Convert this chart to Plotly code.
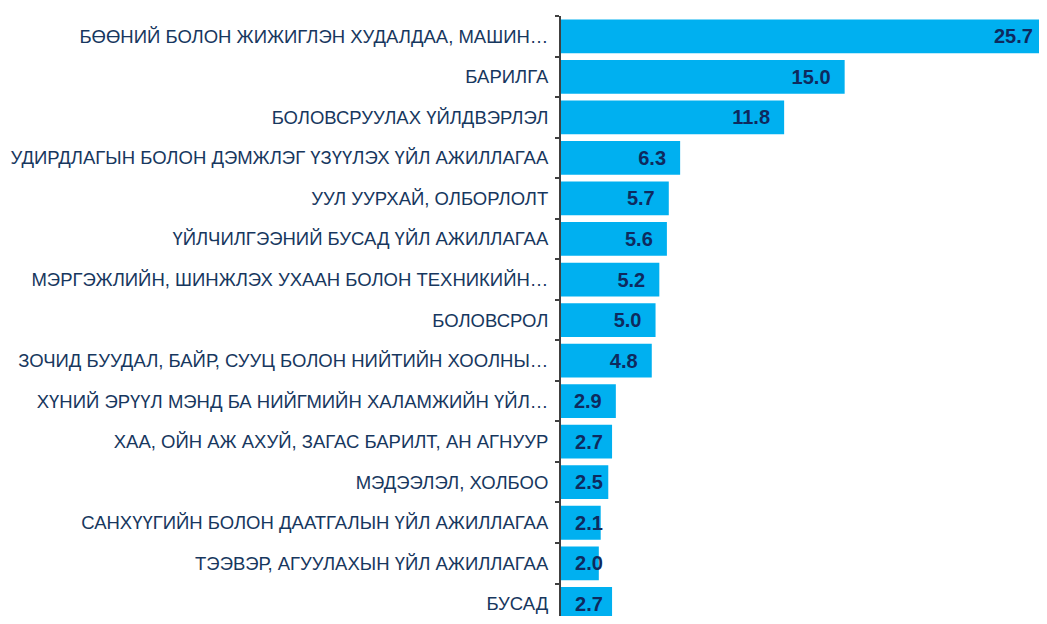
import plotly.graph_objects as go

categories = [
    "БӨӨНИЙ БОЛОН ЖИЖИГЛЭН ХУДАЛДАА, МАШИН…",
    "БАРИЛГА",
    "БОЛОВСРУУЛАХ ҮЙЛДВЭРЛЭЛ",
    "УДИРДЛАГЫН БОЛОН ДЭМЖЛЭГ ҮЗҮҮЛЭХ ҮЙЛ АЖИЛЛАГАА",
    "УУЛ УУРХАЙ, ОЛБОРЛОЛТ",
    "ҮЙЛЧИЛГЭЭНИЙ БУСАД ҮЙЛ АЖИЛЛАГАА",
    "МЭРГЭЖЛИЙН, ШИНЖЛЭХ УХААН БОЛОН ТЕХНИКИЙН…",
    "БОЛОВСРОЛ",
    "ЗОЧИД БУУДАЛ, БАЙР, СУУЦ БОЛОН НИЙТИЙН ХООЛНЫ…",
    "ХҮНИЙ ЭРҮҮЛ МЭНД БА НИЙГМИЙН ХАЛАМЖИЙН ҮЙЛ…",
    "ХАА, ОЙН АЖ АХУЙ, ЗАГАС БАРИЛТ, АН АГНУУР",
    "МЭДЭЭЛЭЛ, ХОЛБОО",
    "САНХҮҮГИЙН БОЛОН ДААТГАЛЫН ҮЙЛ АЖИЛЛАГАА",
    "ТЭЭВЭР, АГУУЛАХЫН ҮЙЛ АЖИЛЛАГАА",
    "БУСАД",
]
values = [25.7, 15.0, 11.8, 6.3, 5.7, 5.6, 5.2, 5.0, 4.8, 2.9, 2.7, 2.5, 2.1, 2.0, 2.7]

BAR_COLOR = "#00B0F0"
LABEL_FONT = dict(family="Liberation Sans, Arial, sans-serif", size=20,
                  color="#0E2A5E", weight="bold")
SMALL = 2.8  # bars too short for an end-anchored label keep it near the base

big = [(c, v) for c, v in zip(categories, values) if v >= SMALL]
small = [(c, v) for c, v in zip(categories, values) if v < SMALL]

fig = go.Figure()
fig.add_trace(go.Bar(
    x=[v for _, v in big],
    y=[c for c, _ in big],
    orientation="h",
    marker=dict(color=BAR_COLOR, line=dict(width=0)),
    texttemplate="%{x:.1f}\u00a0\u00a0",
    textposition="inside",
    insidetextanchor="end",
    constraintext="none",
    textangle=0,
    textfont=LABEL_FONT,
))
fig.add_trace(go.Bar(
    x=[v for _, v in small],
    y=[c for c, _ in small],
    orientation="h",
    marker=dict(color=BAR_COLOR, line=dict(width=0)),
    texttemplate="\u00a0\u00a0%{x:.1f}",
    textposition="inside",
    insidetextanchor="start",
    constraintext="none",
    textangle=0,
    textfont=LABEL_FONT,
    cliponaxis=False,
))

fig.update_layout(
    width=1039,
    height=608,
    margin=dict(l=553, r=0, t=8, b=0, pad=0),
    paper_bgcolor="white",
    plot_bgcolor="white",
    barmode="overlay",
    bargap=0.167,
    showlegend=False,
    font=dict(family="Liberation Sans, Arial, sans-serif", size=18.5, color="#17375E"),
)
fig.update_xaxes(range=[0, 25.7], visible=False, showgrid=False, zeroline=False)
fig.update_yaxes(
    type="category",
    categoryorder="array",
    categoryarray=categories,
    range=[14.3, -0.5],
    showline=True,
    linecolor="#404040",
    linewidth=2,
    ticks="outside",
    tickson="boundaries",
    ticklen=4,
    tickwidth=2,
    tickcolor="#404040",
    ticklabelstandoff=7,
    showgrid=False,
    zeroline=False,
    tickfont=dict(family="Liberation Sans, Arial, sans-serif", size=18.5, color="#17375E"),
    automargin=False,
)

fig.write_html("out.html")
